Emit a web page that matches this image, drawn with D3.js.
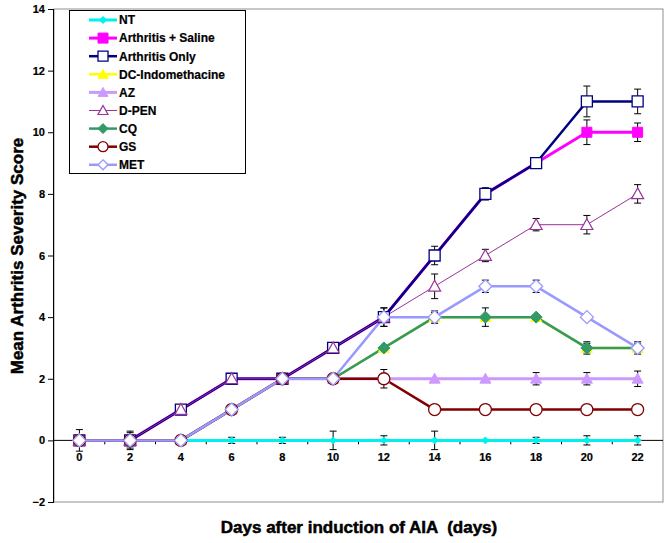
<!DOCTYPE html>
<html>
<head>
<meta charset="utf-8">
<script src="https://cdn.jsdelivr.net/npm/d3@7"></script>
<style>
html,body{margin:0;padding:0;background:#fff;}
svg{display:block;}
text{font-family:"Liberation Sans",Arial,sans-serif;font-weight:bold;}
</style>
</head>
<body>
<svg id="chart" width="669" height="543"></svg>
<script>
const days = [0,2,4,6,8,10,12,14,16,18,20,22];
const yTicks = [-2,0,2,4,6,8,10,12,14];

const seriesNames = ["NT","Arthritis + Saline","Arthritis Only","DC-Indomethacine","AZ","D-PEN","CQ","GS","MET"];

const ntValues      = [0,0,0,0,0,0,0,0,0,0,0,0];
const salineValues  = [0,0,1,2,2,3,4,6,8,9,10,10];
const arthOnlyValues= [0,0,1,2,2,3,4,6,8,9,11,11];
const dcValues      = [0,0,0,1,2,2,3,4,4,4,3,3];
const azValues      = [0,0,0,1,2,2,2,2,2,2,2,2];
const dpenValues    = [0,0,1,2,2,3,4,5,6,7,7,8];
const cqValues      = [0,0,0,1,2,2,3,4,4,4,3,3];
const gsValues      = [0,0,0,1,2,2,2,1,1,1,1,1];
const metValues     = [0,0,0,1,2,2,4,4,5,5,4,3];

const ntErr      = [0.35,0.3,0,0.1,0.1,0.3,0.15,0.3,0,0.1,0.15,0.15];
const salineErr  = [0,0,0,0,0,0,0,0,0,0,0.4,0.3];
const arthOnlyErr= [0,0.25,0,0,0,0,0.3,0.3,0.2,0,0.5,0.4];
const dcErr      = [0,0,0,0,0,0,0,0.15,0,0,0.15,0.15];
const azErr      = [0,0,0,0,0,0,0,0,0,0.2,0.2,0.25];
const dpenErr    = [0,0,0,0,0,0,0.3,0.4,0.2,0.2,0.3,0.3];
const cqErr      = [0,0,0,0,0,0,0,0.2,0.3,0,0.2,0.2];
const gsErr      = [0,0,0,0,0,0,0.3,0.15,0.15,0,0,0];
const metErr     = [0,0,0,0,0,0,0,0,0.2,0.2,0,0];

const seriesValues = [ntValues,salineValues,arthOnlyValues,dcValues,azValues,dpenValues,cqValues,gsValues,metValues];
const seriesErrors = [ntErr,salineErr,arthOnlyErr,dcErr,azErr,dpenErr,cqErr,gsErr,metErr];

// styles
const styles = [
  {color:"#00F0F0", width:3,   shape:"diamond",  size:7,  fill:"#00F0F0", sw:1},
  {color:"#FF00FF", width:3,   shape:"square",   size:10, fill:"#FF00FF", sw:1},
  {color:"#000080", width:2.5, shape:"square",   size:11, fill:"#ffffff", sw:1.3},
  {color:"#FFFF00", width:2.5, shape:"triangle", size:11, fill:"#FFFF00", sw:1},
  {color:"#CC99FF", width:3,   shape:"triangle", size:11, fill:"#CC99FF", sw:1},
  {color:"#993399", width:1,   shape:"triangle", size:12, fill:"#ffffff", sw:1.2},
  {color:"#339966", width:2.5, shape:"diamond",  size:12, fill:"#339966", sw:1},
  {color:"#800000", width:2.5, shape:"circle",   size:12, fill:"#ffffff", sw:1.3},
  {color:"#9999FF", width:2.5, shape:"diamond",  size:13, fill:"#ffffff", sw:1.3}
];

const series = seriesNames.map((n,i)=>({name:n, values:seriesValues[i], err:seriesErrors[i], style:styles[i]}));

const svg = d3.select("#chart");
const plot = {left:54, right:663, top:9, bottom:502};

const x = d3.scaleBand().domain(days).range([plot.left, plot.right]);
const xc = d => x(d) + x.bandwidth()/2;
const y = d3.scaleLinear().domain([-2,14]).range([plot.bottom, plot.top]);

// plot border (grey)
svg.append("rect").attr("x",plot.left).attr("y",plot.top)
  .attr("width",plot.right-plot.left).attr("height",plot.bottom-plot.top)
  .attr("fill","none").attr("stroke","#909090").attr("stroke-width",1);

// Y axis
const yAxis = d3.axisLeft(y).tickValues(yTicks).tickSize(6).tickPadding(3).tickFormat(d3.format("d"));
const gy = svg.append("g").attr("transform",`translate(${plot.left},0)`).call(yAxis);
gy.select(".domain").attr("stroke","#000").attr("d",`M-0.5,${plot.top}V${plot.bottom}`);
gy.selectAll(".tick line").attr("stroke","#000");
gy.selectAll(".tick text").attr("font-size",11).attr("fill","#000")
  .attr("font-family","'Liberation Sans',Arial,sans-serif").attr("font-weight","bold")
  .attr("stroke","#000").attr("stroke-width",0.2);

// X axis at y=0
const gx = svg.append("g").attr("transform",`translate(0,${y(0)})`);
gx.append("line").attr("x1",plot.left).attr("x2",plot.right).attr("y1",0).attr("y2",0)
  .attr("stroke","#000").attr("stroke-width",1);
const boundaries = days.slice(1).map(d => x(d));
gx.selectAll("line.tk").data(boundaries).enter().append("line").attr("class","tk")
  .attr("x1",d=>d).attr("x2",d=>d).attr("y1",0).attr("y2",4).attr("stroke","#000");
gx.selectAll("text.xl").data(days).enter().append("text").attr("class","xl")
  .attr("x",d=>xc(d)).attr("y",21).attr("text-anchor","middle")
  .attr("font-size",11).attr("stroke","#000").attr("stroke-width",0.2).text(d=>d);

// lines
const line = d3.line().x((v,i)=>xc(days[i])).y(v=>y(v));
const gLines = svg.append("g");
series.forEach(s=>{
  gLines.append("path").attr("d",line(s.values)).attr("fill","none")
    .attr("stroke",s.style.color).attr("stroke-width",s.style.width)
    .attr("stroke-linejoin","round");
});

// error bars
const gErr = svg.append("g");
series.forEach(s=>{
  s.values.forEach((v,i)=>{
    const e = s.err[i];
    if(!e) return;
    const cx = xc(days[i]);
    const y1 = y(v+e), y2 = y(v-e);
    gErr.append("line").attr("x1",cx).attr("x2",cx).attr("y1",y1).attr("y2",y2).attr("stroke","#000").attr("stroke-width",1);
    gErr.append("line").attr("x1",cx-3.5).attr("x2",cx+3.5).attr("y1",y1).attr("y2",y1).attr("stroke","#000").attr("stroke-width",1);
    gErr.append("line").attr("x1",cx-3.5).attr("x2",cx+3.5).attr("y1",y2).attr("y2",y2).attr("stroke","#000").attr("stroke-width",1);
  });
});

// marker path
function markerPath(shape, size){
  const h = size/2;
  if(shape==="square") return `M${-h},${-h}H${h}V${h}H${-h}Z`;
  if(shape==="diamond") return `M0,${-h}L${h},0L0,${h}L${-h},0Z`;
  if(shape==="triangle") return `M0,${-h}L${h},${h*0.8}L${-h},${h*0.8}Z`;
  if(shape==="circle") return `M${h},0A${h},${h} 0 1,1 ${-h},0A${h},${h} 0 1,1 ${h},0Z`;
}

const gMarkers = svg.append("g");
series.forEach(s=>{
  s.values.forEach((v,i)=>{
    gMarkers.append("path").attr("d",markerPath(s.style.shape,s.style.size))
      .attr("transform",`translate(${xc(days[i])},${y(v)})`)
      .attr("fill",s.style.fill).attr("stroke",s.style.color).attr("stroke-width",s.style.sw);
  });
});

// legend
const lg = svg.append("g");
lg.append("rect").attr("x",69.5).attr("y",10.5).attr("width",176).attr("height",163)
  .attr("fill","#fff").attr("stroke","#000").attr("stroke-width",1);
series.forEach((s,i)=>{
  const ly = 20 + i*18.1;
  lg.append("line").attr("x1",89).attr("x2",117).attr("y1",ly).attr("y2",ly)
    .attr("stroke",s.style.color).attr("stroke-width",s.style.width);
  lg.append("path").attr("d",markerPath(s.style.shape,Math.min(s.style.size,10)))
    .attr("transform",`translate(103,${ly})`)
    .attr("fill",s.style.fill).attr("stroke",s.style.color).attr("stroke-width",s.style.sw);
  lg.append("text").attr("x",119).attr("y",ly+4.3).attr("font-size",12)
    .attr("stroke","#000").attr("stroke-width",0.2).text(s.name);
});

// axis titles
svg.append("text").attr("transform","translate(23,256) rotate(-90)")
  .attr("text-anchor","middle").attr("font-size",17)
  .attr("stroke","#000").attr("stroke-width",0.5).text("Mean Arthritis Severity Score");
svg.append("text").attr("x",359).attr("y",533).attr("text-anchor","middle")
  .attr("font-size",17).attr("stroke","#000").attr("stroke-width",0.5)
  .style("white-space","pre")
  .text("Days after induction of AIA  (days)");
</script>
</body>
</html>
